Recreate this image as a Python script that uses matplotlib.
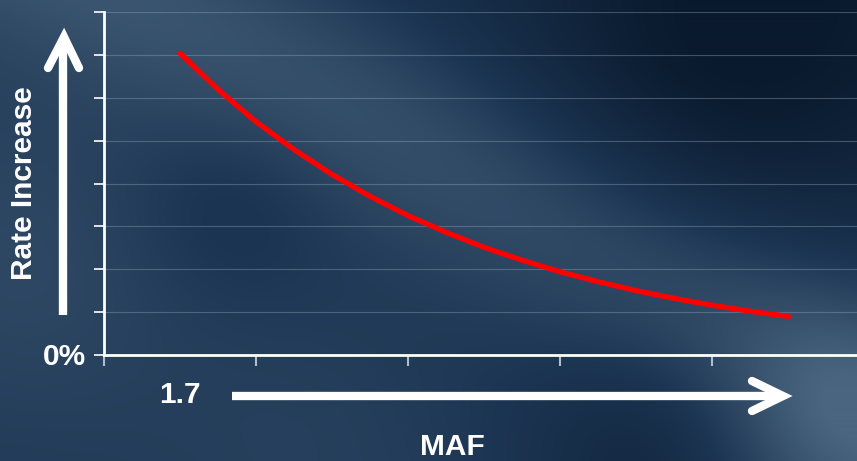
import numpy as np
import matplotlib
matplotlib.use("Agg")
import matplotlib.pyplot as plt
from matplotlib.colors import LinearSegmentedColormap

plt.rcParams['font.family'] = ['Liberation Sans', 'DejaVu Sans']

# curve (x in tick units from the y axis, y in gridline units)
maf = [0.5, 0.75, 1.0, 1.25, 1.5, 1.75, 2.0, 2.25, 2.5, 2.75,
       3.0, 3.25, 3.5, 3.75, 4.0, 4.25, 4.5]
rate = [7.04, 6.19, 5.44, 4.79, 4.21, 3.70, 3.25, 2.86, 2.51, 2.21,
        1.94, 1.71, 1.50, 1.32, 1.16, 1.02, 0.90]
yticks = list(range(0, 9))
xticks = list(range(0, 5))

W, H = 857, 461
fig = plt.figure(figsize=(W / 100, H / 100), dpi=100)

# background texture: dark blue with soft light streaks
bg = fig.add_axes([0, 0, 1, 1])
bg.set_axis_off()
yy, xx = np.mgrid[0:H, 0:W].astype(float)

def band(x0, y0, x1, y1, width):
    dx, dy = x1 - x0, y1 - y0
    n = np.hypot(dx, dy)
    d = np.abs((xx - x0) * dy - (yy - y0) * dx) / n
    return np.exp(-(d / width) ** 2)

def blob(cx, cy, r):
    return np.exp(-((xx - cx) ** 2 + (yy - cy) ** 2) / r ** 2)

v = 0.40 - 0.22 * (xx / W) * (1 - yy / H)
v += 0.25 * band(150, 0, 857, 380, 110)
v += 0.12 * blob(30, 260, 170)
v += 0.18 * blob(840, 420, 110)
v += 0.06 * blob(300, 420, 160)
v -= 0.25 * blob(730, 50, 200)
v -= 0.18 * blob(640, 470, 120)
v -= 0.08 * blob(230, 200, 100)
v = np.clip(v, 0, 1)
cmap = LinearSegmentedColormap.from_list("bgc", ["#0a1a2e", "#1c3552", "#4a6580"])
bg.imshow(v, cmap=cmap, vmin=0, vmax=0.75, extent=(0, W, H, 0), aspect="auto")
bg.set_xlim(0, W)
bg.set_ylim(H, 0)

ax = fig.add_axes([104 / W, 1 - 355 / H, 1 - 104 / W, (355 - 12) / H])
ax.patch.set_alpha(0)
ax.plot(maf, rate, color="#ff0000", lw=3.8, solid_capstyle="round",
        solid_joinstyle="round", zorder=3)
ax.set_xlim(0, 4.95)
ax.set_ylim(0, 8)
ax.set_yticks(yticks)
ax.set_xticks(xticks)
ax.set_yticklabels([])
ax.set_xticklabels([])
ax.grid(axis="y", color="#8fa3b8", alpha=0.4, lw=0.8)
ax.tick_params(axis="y", direction="out", length=7, width=1.2, color="white")
ax.tick_params(axis="x", direction="out", length=8, width=1.5, color="#b0bcc8")
for s in ["top", "right"]:
    ax.spines[s].set_visible(False)
for s in ["left", "bottom"]:
    ax.spines[s].set_color("white")
    ax.spines[s].set_linewidth(2)

# overlay for arrows and text, in pixel coordinates
ov = fig.add_axes([0, 0, 1, 1])
ov.set_axis_off()
ov.patch.set_alpha(0)
ov.set_xlim(0, W)
ov.set_ylim(H, 0)
kw = dict(color="white", lw=6, solid_capstyle="butt")
ov.plot([63, 63], [315, 40], **kw)
ov.plot([48, 64, 79], [68, 37, 68], color="white", lw=6,
        solid_capstyle="round", solid_joinstyle="miter")
ov.plot([232, 778], [396, 396], **kw)
ov.plot([752, 783, 752], [381, 396, 411], color="white", lw=6,
        solid_capstyle="round", solid_joinstyle="miter")

tkw = dict(color="white", fontsize=21.5, fontweight="bold", ha="center", va="center")
ov.text(24, 183, "Rate Increase", rotation=90, **tkw)
ov.text(64.5, 357, "0%", **tkw)
ov.text(180, 395, "1.7", **tkw)
ov.text(452, 447, "MAF", **tkw)

fig.savefig("out.png", dpi=100)
